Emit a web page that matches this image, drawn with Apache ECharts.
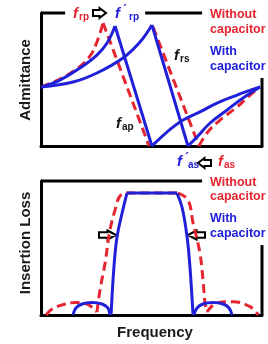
<!DOCTYPE html>
<html>
<head>
<meta charset="utf-8">
<script src="https://cdn.jsdelivr.net/npm/echarts@6/dist/echarts.min.js"></script>
<style>
  html, body { margin: 0; padding: 0; background: #fff; }
  #chart { width: 268px; height: 344px; }
</style>
</head>
<body>
<div id="chart"></div>
<script>
// x: frequency 0..100, y: response 0..100 (both panels)
const BLUE = '#2020d8'
const RED = '#e52530'

// top panel: admittance
const admBlueRise1 = [[0, 44.4], [8.6, 49.6], [17.6, 58.6], [25.3, 68.4], [29.9, 77.4], [33.5, 90.2]]
const admBlueDrop1 = [[33.5, 90.2], [50.2, 0]]
const admBlueRise2 = [[0, 44.4], [14.5, 48.1], [25.3, 54.9], [37.1, 66.2], [44.8, 78.2], [50.2, 91]]
const admBlueDrop2 = [[50.2, 91], [66.5, 0]]
const admBlueTailA = [[50.2, 0], [57, 10.5], [64.3, 19.5], [71.9, 25.6], [79.6, 32.3], [88.7, 38.3], [99.1, 44.4]]
const admBlueTailB = [[66.5, 0], [70.6, 6.8], [76.5, 17.3], [84.2, 27.1], [91.4, 36.1], [99.1, 44.4]]
const admRedRise = [[0, 44.4], [8.6, 50.4], [16.7, 58.6], [22.2, 67.7], [25.3, 78.2], [28.1, 92.5]]
const admRedDrop1 = [[28.1, 92.5], [48.9, 0]]
const admRedDrop2 = [[50.7, 89.5], [71.5, 0]]
const admRedTail = [[71.5, 0], [75.1, 9.8], [81, 19.5], [88.7, 29.3], [94.6, 38.3], [99.1, 44.4]]

// bottom panel: insertion loss
const ilBlueLeft = [[31.7, 0], [33, 35.8], [34.4, 58.2], [36.7, 76.1], [38.9, 91]]
const ilBlueTop = [[38.9, 91], [61.5, 91]]
const ilBlueRight = [[61.5, 91], [63.8, 80.6], [66.1, 58.2], [67.4, 35.8], [68.8, 0]]
const ilBlueLobeL = [[14.5, 0], [15.8, 5.2], [18.6, 8.2], [23.1, 9.3], [27.6, 8.2], [30.3, 5.2], [31.2, 0]]
const ilBlueLobeR = [[69.2, 0], [70.6, 5.2], [73.3, 8.2], [77.8, 9.3], [82.4, 8.2], [85.1, 5.2], [86.4, 0]]
const ilRedLobeL = [[2.3, 0], [5, 4.5], [9.5, 7.5], [15.4, 9.3], [20.8, 8.2], [25.3, 2.2]]
const ilRedLeft = [[25.3, 2.2], [26.7, 18.7], [29, 38.8], [31.2, 63.4], [33.9, 80.6], [35.7, 88.8], [38.5, 91]]
const ilRedTop = [[38.5, 91], [62, 91]]
const ilRedRight = [[62, 91], [66.5, 85.8], [68.8, 68.7], [71.9, 46.3], [73.3, 26.1], [74.2, 9], [75.1, 2.2]]
const ilRedLobeR = [[75.1, 2.2], [79.6, 9], [86.9, 9.9], [94.6, 6.2], [98.3, 0]]

// partial frame borders
const admFrameTop1 = [[0, 100], [10.9, 100]]
const admFrameTop2 = [[47.1, 100], [72.9, 100]]
const admFrameRight = [[100, 51.1], [100, 0]]
const ilFrameTop = [[0, 100], [72.9, 100]]
const ilFrameRight = [[100, 52.2], [100, 0]]

var myChart = echarts.init(document.getElementById('chart'))

function axisX (gi) {
  return {
    gridIndex: gi, type: 'value', min: 0, max: 100,
    axisLine: { show: true, onZero: false, lineStyle: { color: '#000', width: 3 } },
    axisTick: { show: false }, axisLabel: { show: false }, splitLine: { show: false }
  }
}
function axisY (gi) {
  return {
    gridIndex: gi, type: 'value', min: 0, max: 100, position: 'left',
    axisLine: { show: true, onZero: false, lineStyle: { color: '#000', width: 3 } },
    axisTick: { show: false }, axisLabel: { show: false }, splitLine: { show: false }
  }
}
function line (gi, data, color, dashed, smooth) {
  return {
    type: 'line', xAxisIndex: gi, yAxisIndex: gi, data: data,
    symbol: 'none', smooth: smooth ? 0.4 : false, silent: true, clip: false,
    lineStyle: { color: color, width: 3, type: dashed ? [9, 5] : 'solid' }
  }
}
function frame (gi, data) {
  return line(gi, data, '#000', false, false)
}

function txt (x, y, text, color, size, opts) {
  opts = opts || {}
  return {
    type: 'text', x: x, y: y, rotation: opts.rot || 0,
    style: {
      text: text, fill: color,
      font: (opts.italic ? 'italic ' : '') + 'bold ' + size + 'px "Liberation Sans", Arial, sans-serif',
      textAlign: opts.align || 'left', textVerticalAlign: 'middle'
    }
  }
}
function arrow (x, y, dir, len, h) {
  // outlined block arrow, x = tail start, dir = 1 right / -1 left
  var s = len * 0.5
  var pts = [[0, -h * 0.3], [s, -h * 0.3], [s, -h * 0.5], [len, 0], [s, h * 0.5], [s, h * 0.3], [0, h * 0.3]]
  return {
    type: 'polygon', x: x, y: y, scaleX: dir,
    shape: { points: pts },
    style: { fill: '#fff', stroke: '#000', lineWidth: 2 }
  }
}

var option = {
  animation: false,
  grid: [
    { left: 41, top: 13, width: 221, height: 133 },
    { left: 41, top: 181, width: 221, height: 134 }
  ],
  xAxis: [axisX(0), axisX(1)],
  yAxis: [axisY(0), axisY(1)],
  series: [
    frame(0, admFrameTop1), frame(0, admFrameTop2), frame(0, admFrameRight),
    frame(1, ilFrameTop), frame(1, ilFrameRight),
    line(0, admRedRise, RED, true, true),
    line(0, admRedDrop1, RED, true, false),
    line(0, admRedDrop2, RED, true, false),
    line(0, admRedTail, RED, true, true),
    line(0, admBlueRise1, BLUE, false, true),
    line(0, admBlueDrop1, BLUE, false, false),
    line(0, admBlueRise2, BLUE, false, true),
    line(0, admBlueDrop2, BLUE, false, false),
    line(0, admBlueTailA, BLUE, false, true),
    line(0, admBlueTailB, BLUE, false, true),
    line(1, ilRedLobeL, RED, true, true),
    line(1, ilRedLeft, RED, true, true),
    line(1, ilRedTop, RED, true, false),
    line(1, ilRedRight, RED, true, true),
    line(1, ilRedLobeR, RED, true, true),
    line(1, ilBlueLobeL, BLUE, false, true),
    line(1, ilBlueLobeR, BLUE, false, true),
    line(1, ilBlueLeft, BLUE, false, true),
    line(1, ilBlueTop, BLUE, false, false),
    line(1, ilBlueRight, BLUE, false, true)
  ],
  graphic: [
    // axis titles
    txt(26, 80, 'Admittance', '#1a1a1a', 15, { rot: Math.PI / 2, align: 'center' }),
    txt(26, 243, 'Insertion Loss', '#1a1a1a', 15, { rot: Math.PI / 2, align: 'center' }),
    txt(155, 333, 'Frequency', '#1a1a1a', 15, { align: 'center' }),
    // legends
    txt(210, 15, 'Without', RED, 12.5), txt(210, 30, 'capacitor', RED, 12.5),
    txt(210, 52, 'With', BLUE, 12.5), txt(210, 67, 'capacitor', BLUE, 12.5),
    txt(210, 183, 'Without', RED, 12.5), txt(210, 197, 'capacitor', RED, 12.5),
    txt(210, 219, 'With', BLUE, 12.5), txt(210, 234, 'capacitor', BLUE, 12.5),
    // f_rp => f'_rp
    txt(73, 14, 'f', RED, 15, { italic: true }), txt(79, 17, 'rp', RED, 10),
    arrow(93, 13, 1, 13, 10),
    txt(115, 14, 'f', BLUE, 15, { italic: true }), txt(123, 11, '´', BLUE, 12), txt(129, 17, 'rp', BLUE, 10),
    // f_rs, f_ap
    txt(174, 56, 'f', '#111', 15, { italic: true }), txt(180, 59, 'rs', '#111', 10),
    txt(116, 124, 'f', '#111', 15, { italic: true }), txt(122, 127, 'ap', '#111', 10),
    // f'_as <= f_as
    txt(177, 162, 'f', BLUE, 15, { italic: true }), txt(185, 159, '´', BLUE, 12), txt(188, 165, 'as', BLUE, 10),
    arrow(211, 163, -1, 13, 10),
    txt(218, 162, 'f', RED, 15, { italic: true }), txt(224, 165, 'as', RED, 10),
    // bottom arrows
    arrow(99, 235, 1, 17, 9),
    arrow(205, 235, -1, 17, 9)
  ]
}
myChart.setOption(option, true)
</script>
</body>
</html>
